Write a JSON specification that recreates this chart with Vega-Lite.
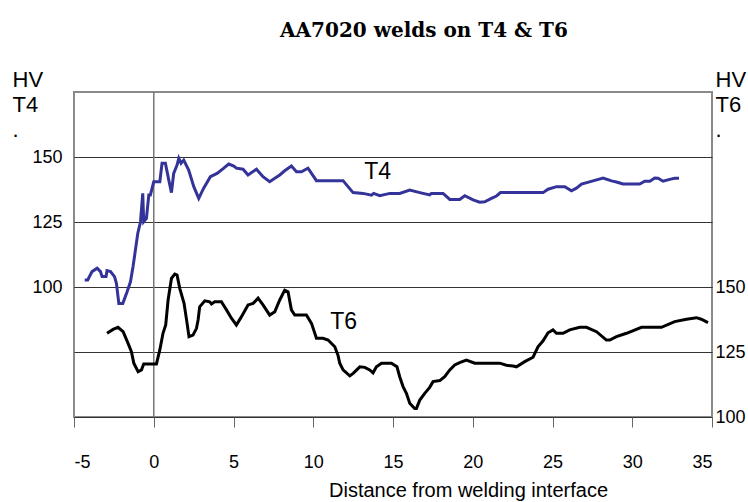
{
  "$schema": "https://vega.github.io/schema/vega-lite/v6.json",
  "width": 638,
  "height": 325,
  "autosize": "none",
  "padding": {"left": 74, "top": 92, "right": 36, "bottom": 85},
  "background": "white",
  "title": {
    "text": "AA7020 welds on T4 & T6",
    "font": "DejaVu Serif",
    "fontSize": 20,
    "fontWeight": "bold",
    "color": "black",
    "anchor": "middle",
    "dx": 31,
    "dy": 3,
    "offset": 30
  },
  "config": {
    "view": {"stroke": "#8a8a8a", "strokeWidth": 2},
    "font": "Liberation Sans, Arial, sans-serif",
    "axis": {
      "labelFont": "Liberation Sans, Arial, sans-serif",
      "titleFont": "Liberation Sans, Arial, sans-serif",
      "labelColor": "black",
      "titleColor": "black",
      "titleFontWeight": "normal"
    }
  },
  "datasets": {
    "t4": [
      {"d": -4.33, "hv": 102.7}, {"d": -4.14, "hv": 102.7}, {"d": -3.87, "hv": 105.9}, {"d": -3.55, "hv": 107.2},
      {"d": -3.34, "hv": 105.9}, {"d": -3.24, "hv": 104.0}, {"d": -2.99, "hv": 104.0}, {"d": -2.93, "hv": 106.3},
      {"d": -2.71, "hv": 105.9}, {"d": -2.46, "hv": 104.0}, {"d": -2.34, "hv": 101.4}, {"d": -2.24, "hv": 96.3},
      {"d": -2.19, "hv": 93.7}, {"d": -1.94, "hv": 93.7}, {"d": -1.67, "hv": 98.2}, {"d": -1.46, "hv": 102.0},
      {"d": -1.30, "hv": 107.8}, {"d": -1.15, "hv": 114.2}, {"d": -1.00, "hv": 120.7}, {"d": -0.83, "hv": 125.1},
      {"d": -0.69, "hv": 136.0}, {"d": -0.63, "hv": 125.1}, {"d": -0.46, "hv": 126.4}, {"d": -0.31, "hv": 135.4},
      {"d": -0.21, "hv": 135.4}, {"d": 0.0, "hv": 140.5}, {"d": 0.38, "hv": 140.5}, {"d": 0.52, "hv": 147.6},
      {"d": 0.73, "hv": 147.6}, {"d": 0.94, "hv": 141.2}, {"d": 1.11, "hv": 136.3}, {"d": 1.25, "hv": 143.7},
      {"d": 1.46, "hv": 146.9}, {"d": 1.57, "hv": 149.5}, {"d": 1.71, "hv": 147.6}, {"d": 1.88, "hv": 148.8},
      {"d": 2.19, "hv": 145.0}, {"d": 2.51, "hv": 138.6}, {"d": 2.82, "hv": 134.1}, {"d": 3.13, "hv": 138.0},
      {"d": 3.55, "hv": 142.4}, {"d": 3.97, "hv": 143.7}, {"d": 4.39, "hv": 145.7}, {"d": 4.70, "hv": 147.3},
      {"d": 5.02, "hv": 146.5}, {"d": 5.18, "hv": 145.7}, {"d": 5.60, "hv": 145.3}, {"d": 5.91, "hv": 143.1},
      {"d": 6.44, "hv": 145.3}, {"d": 6.85, "hv": 142.4}, {"d": 7.27, "hv": 140.5}, {"d": 7.59, "hv": 141.8},
      {"d": 7.90, "hv": 143.1}, {"d": 8.21, "hv": 144.7}, {"d": 8.63, "hv": 146.5}, {"d": 8.95, "hv": 144.3},
      {"d": 9.26, "hv": 144.3}, {"d": 9.67, "hv": 145.7}, {"d": 10.20, "hv": 140.9}, {"d": 11.87, "hv": 140.9},
      {"d": 12.18, "hv": 138.6}, {"d": 12.50, "hv": 136.3}, {"d": 13.12, "hv": 136.0}, {"d": 13.65, "hv": 135.3},
      {"d": 13.79, "hv": 136.0}, {"d": 14.17, "hv": 135.1}, {"d": 14.80, "hv": 136.0}, {"d": 15.42, "hv": 136.0},
      {"d": 16.05, "hv": 137.3}, {"d": 16.68, "hv": 136.3}, {"d": 17.30, "hv": 135.4}, {"d": 17.41, "hv": 136.0},
      {"d": 18.14, "hv": 136.0}, {"d": 18.56, "hv": 133.7}, {"d": 19.18, "hv": 133.7}, {"d": 19.50, "hv": 135.1},
      {"d": 20.02, "hv": 133.5}, {"d": 20.44, "hv": 132.6}, {"d": 20.75, "hv": 132.8}, {"d": 21.17, "hv": 134.1},
      {"d": 21.49, "hv": 135.0}, {"d": 21.74, "hv": 136.3}, {"d": 24.41, "hv": 136.3}, {"d": 24.72, "hv": 137.6},
      {"d": 25.25, "hv": 138.6}, {"d": 25.77, "hv": 138.6}, {"d": 26.19, "hv": 137.0}, {"d": 26.50, "hv": 138.0},
      {"d": 26.82, "hv": 139.6}, {"d": 27.54, "hv": 140.8}, {"d": 28.17, "hv": 141.9}, {"d": 28.70, "hv": 140.8},
      {"d": 29.01, "hv": 140.4}, {"d": 29.42, "hv": 139.6}, {"d": 30.47, "hv": 139.6}, {"d": 30.78, "hv": 140.7},
      {"d": 31.10, "hv": 140.7}, {"d": 31.41, "hv": 141.9}, {"d": 31.62, "hv": 141.8}, {"d": 31.93, "hv": 140.7},
      {"d": 32.35, "hv": 141.4}, {"d": 32.66, "hv": 141.8}, {"d": 32.93, "hv": 141.8}
    ],
    "t6": [
      {"d": -2.93, "hv": 132.2}, {"d": -2.55, "hv": 133.7}, {"d": -2.24, "hv": 134.5}, {"d": -1.92, "hv": 132.8},
      {"d": -1.61, "hv": 128.3}, {"d": -1.40, "hv": 125.1}, {"d": -1.25, "hv": 120.7}, {"d": -0.98, "hv": 117.4},
      {"d": -0.77, "hv": 118.1}, {"d": -0.63, "hv": 120.4}, {"d": 0.17, "hv": 120.4}, {"d": 0.38, "hv": 125.8},
      {"d": 0.58, "hv": 132.2}, {"d": 0.75, "hv": 135.4}, {"d": 0.90, "hv": 145.0}, {"d": 1.11, "hv": 153.3},
      {"d": 1.32, "hv": 155.0}, {"d": 1.46, "hv": 154.6}, {"d": 1.63, "hv": 149.5}, {"d": 1.90, "hv": 143.7},
      {"d": 2.09, "hv": 136.0}, {"d": 2.21, "hv": 130.9}, {"d": 2.46, "hv": 131.5}, {"d": 2.68, "hv": 134.1},
      {"d": 2.78, "hv": 137.3}, {"d": 2.88, "hv": 142.4}, {"d": 3.20, "hv": 144.7}, {"d": 3.51, "hv": 144.3},
      {"d": 3.62, "hv": 143.5}, {"d": 3.82, "hv": 144.3}, {"d": 4.24, "hv": 144.3}, {"d": 4.56, "hv": 141.2},
      {"d": 4.87, "hv": 138.0}, {"d": 5.18, "hv": 135.4}, {"d": 5.50, "hv": 138.6}, {"d": 5.91, "hv": 143.1},
      {"d": 6.23, "hv": 143.7}, {"d": 6.54, "hv": 145.7}, {"d": 6.85, "hv": 143.1}, {"d": 7.27, "hv": 139.2},
      {"d": 7.59, "hv": 140.5}, {"d": 7.90, "hv": 145.0}, {"d": 8.21, "hv": 148.8}, {"d": 8.42, "hv": 148.2},
      {"d": 8.63, "hv": 141.2}, {"d": 8.84, "hv": 139.2}, {"d": 9.57, "hv": 139.2}, {"d": 9.89, "hv": 136.0},
      {"d": 10.20, "hv": 130.3}, {"d": 10.61, "hv": 130.3}, {"d": 10.93, "hv": 129.6}, {"d": 11.35, "hv": 127.0},
      {"d": 11.55, "hv": 123.8}, {"d": 11.66, "hv": 120.7}, {"d": 11.87, "hv": 118.1}, {"d": 12.29, "hv": 115.8},
      {"d": 12.50, "hv": 116.8}, {"d": 12.92, "hv": 119.3}, {"d": 13.23, "hv": 119.1}, {"d": 13.54, "hv": 118.1},
      {"d": 13.75, "hv": 117.0}, {"d": 13.96, "hv": 119.3}, {"d": 14.28, "hv": 120.7}, {"d": 14.90, "hv": 120.7},
      {"d": 15.25, "hv": 119.3}, {"d": 15.42, "hv": 115.5}, {"d": 15.63, "hv": 111.7}, {"d": 15.84, "hv": 109.1},
      {"d": 16.05, "hv": 105.3}, {"d": 16.36, "hv": 103.3}, {"d": 16.47, "hv": 103.3}, {"d": 16.68, "hv": 106.5},
      {"d": 16.99, "hv": 109.1}, {"d": 17.30, "hv": 111.4}, {"d": 17.51, "hv": 113.6}, {"d": 17.93, "hv": 114.0},
      {"d": 18.24, "hv": 115.5}, {"d": 18.56, "hv": 118.1}, {"d": 18.87, "hv": 120.0}, {"d": 19.18, "hv": 120.9},
      {"d": 19.60, "hv": 121.9}, {"d": 20.13, "hv": 120.7}, {"d": 21.69, "hv": 120.7}, {"d": 22.11, "hv": 119.9},
      {"d": 22.53, "hv": 119.6}, {"d": 22.74, "hv": 119.3}, {"d": 23.26, "hv": 121.3}, {"d": 23.78, "hv": 123.0},
      {"d": 24.09, "hv": 127.0}, {"d": 24.41, "hv": 129.3}, {"d": 24.72, "hv": 132.4}, {"d": 25.03, "hv": 133.5},
      {"d": 25.25, "hv": 132.2}, {"d": 25.66, "hv": 132.2}, {"d": 26.08, "hv": 133.5}, {"d": 26.71, "hv": 134.5},
      {"d": 27.13, "hv": 134.5}, {"d": 27.76, "hv": 132.8}, {"d": 28.38, "hv": 129.6}, {"d": 28.59, "hv": 129.6},
      {"d": 29.01, "hv": 130.9}, {"d": 29.64, "hv": 132.2}, {"d": 30.58, "hv": 134.5}, {"d": 31.83, "hv": 134.5},
      {"d": 32.66, "hv": 136.7}, {"d": 33.40, "hv": 137.6}, {"d": 34.02, "hv": 138.2}, {"d": 34.33, "hv": 137.6},
      {"d": 34.75, "hv": 136.3}
    ],
    "labels4": [{"d": 14.04, "hv": 144.4, "name": "T4"}],
    "labels6": [{"d": 11.9, "hv": 136.5, "name": "T6"}],
    "zero": [{"d": 0}]
  },
  "layer": [
    {
      "encoding": {
        "x": {
          "field": "d", "type": "quantitative",
          "scale": {"domain": [-5, 35], "nice": false, "zero": false},
          "axis": {
            "values": [-5, 0, 5, 10, 15, 20, 25, 30, 35],
            "labelExpr": "'' + datum.value",
            "domain": false, "grid": false,
            "tickSize": 10, "tickColor": "#666", "tickWidth": 1,
            "labelFontSize": 18, "labelPadding": 35, "labelBaseline": "middle",
            "title": "Distance from welding interface",
            "titleFontSize": 20, "titleX": 394, "titleY": 79,
            "titleAlign": "center", "titleBaseline": "alphabetic"
          }
        },
        "y": {
          "field": "hv", "type": "quantitative",
          "scale": {"domain": [50, 175], "nice": false, "zero": false},
          "axis": {
            "orient": "left",
            "values": [100, 125, 150],
            "domain": false, "ticks": false,
            "grid": true, "gridColor": "#333", "gridWidth": 1,
            "labelFontSize": 18, "labelPadding": 12,
            "title": ["HV", "T4", "."],
            "titleFontSize": 22, "titleAngle": 0, "titleAlign": "left",
            "titleBaseline": "alphabetic", "titleLineHeight": 25,
            "titleX": -62, "titleY": -6
          }
        }
      },
      "layer": [
        {
          "data": {"name": "zero"},
          "mark": {"type": "rule", "color": "#777", "strokeWidth": 1.5},
          "encoding": {"y": null}
        },
        {
          "data": {"name": "t4"},
          "mark": {"type": "line", "color": "#333399", "strokeWidth": 3}
        },
        {
          "data": {"name": "labels4"},
          "mark": {"type": "text", "fontSize": 23, "color": "black", "font": "Liberation Sans, Arial, sans-serif"},
          "encoding": {"text": {"field": "name"}}
        }
      ]
    },
    {
      "encoding": {
        "x": {"field": "d", "type": "quantitative", "scale": {"domain": [-5, 35], "nice": false, "zero": false}},
        "y": {
          "field": "hv", "type": "quantitative",
          "scale": {"domain": [100, 225], "nice": false, "zero": false},
          "axis": {
            "orient": "right",
            "values": [100, 125, 150],
            "domain": false, "ticks": false,
            "grid": true, "gridColor": "#333", "gridWidth": 1,
            "labelFontSize": 18, "labelPadding": 3,
            "title": ["HV", "T6", "."],
            "titleFontSize": 22, "titleAngle": 0, "titleAlign": "left",
            "titleBaseline": "alphabetic", "titleLineHeight": 25,
            "titleX": 3, "titleY": -6
          }
        }
      },
      "layer": [
        {
          "data": {"name": "t6"},
          "mark": {"type": "line", "color": "black", "strokeWidth": 3}
        },
        {
          "data": {"name": "labels6"},
          "mark": {"type": "text", "fontSize": 23, "color": "black", "font": "Liberation Sans, Arial, sans-serif"},
          "encoding": {"text": {"field": "name"}}
        }
      ]
    }
  ],
  "resolve": {"scale": {"y": "independent"}}
}
